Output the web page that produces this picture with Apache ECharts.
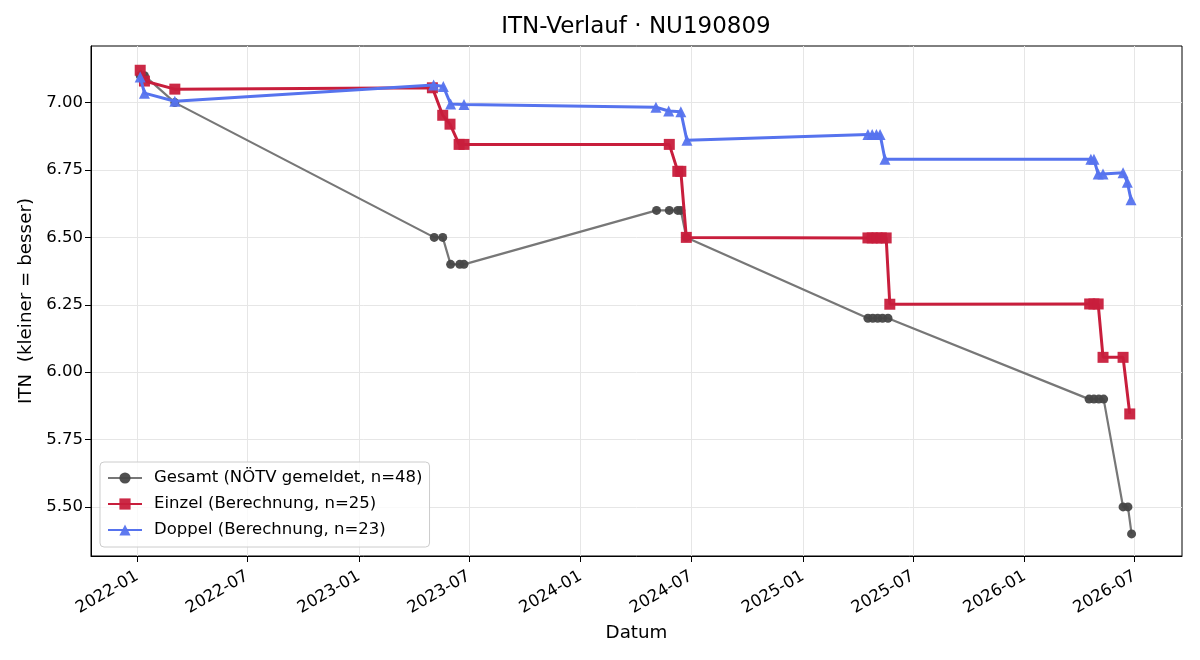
<!DOCTYPE html>
<html>
<head>
<meta charset="utf-8">
<title>ITN-Verlauf</title>
<script src="https://cdn.jsdelivr.net/npm/echarts@6/dist/echarts.min.js"></script>
<style>
  html, body { margin: 0; padding: 0; background: #fff; }
  #chart { width: 1200px; height: 660px; }
</style>
</head>
<body>
<div id="chart"></div>
<script>
// Gesamt (NÖTV gemeldet)
const gesamtDates = ['2022-01-06', '2022-01-13', '2022-03-04', '2023-05-05', '2023-05-19', '2023-06-01', '2023-06-16', '2023-06-23',
  '2024-05-05', '2024-05-26', '2024-06-09', '2024-06-14', '2024-06-23', '2025-04-18', '2025-04-26', '2025-05-04', '2025-05-12',
  '2025-05-21', '2026-04-17', '2026-04-25', '2026-05-03', '2026-05-11', '2026-06-12', '2026-06-20', '2026-06-26'];
const gesamtValues = [7.10, 7.10, 7.00, 6.50, 6.50, 6.40, 6.40, 6.40,
  6.60, 6.60, 6.60, 6.60, 6.50, 6.20, 6.20, 6.20, 6.20,
  6.20, 5.90, 5.90, 5.90, 5.90, 5.50, 5.50, 5.40];

// Einzel (Berechnung)
const einzelDates = ['2022-01-06', '2022-01-13', '2022-03-04', '2023-05-02', '2023-05-19', '2023-05-31', '2023-06-15', '2023-06-23',
  '2024-05-26', '2024-06-09', '2024-06-14', '2024-06-23', '2025-04-18', '2025-04-25', '2025-05-03', '2025-05-10', '2025-05-18',
  '2025-05-24', '2026-04-18', '2026-04-25', '2026-05-02', '2026-05-10', '2026-06-12', '2026-06-23'];
const einzelValues = [7.12, 7.08, 7.05, 7.055, 6.953, 6.92, 6.845, 6.845,
  6.845, 6.745, 6.745, 6.50, 6.498, 6.498, 6.498, 6.498, 6.498,
  6.252, 6.253, 6.253, 6.253, 6.055, 6.055, 5.845];

// Doppel (Berechnung)
const doppelDates = ['2022-01-06', '2022-01-13', '2022-03-04', '2023-05-04', '2023-05-20', '2023-06-01', '2023-06-23',
  '2024-05-04', '2024-05-25', '2024-06-14', '2024-06-24', '2025-04-18', '2025-04-25', '2025-05-02', '2025-05-08', '2025-05-16',
  '2026-04-20', '2026-04-25', '2026-05-02', '2026-05-10', '2026-06-12', '2026-06-19', '2026-06-25'];
const doppelValues = [7.095, 7.035, 7.005, 7.065, 7.06, 6.995, 6.993,
  6.983, 6.969, 6.966, 6.86, 6.882, 6.882, 6.882, 6.882, 6.79,
  6.79, 6.79, 6.735, 6.735, 6.74, 6.705, 6.64];

const seriesNames = ['Gesamt (NÖTV gemeldet, n=48)', 'Einzel (Berechnung, n=25)', 'Doppel (Berechnung, n=23)'];
const xTicks = ['2022-01-01', '2022-07-01', '2023-01-01', '2023-07-01', '2024-01-01', '2024-07-01',
  '2025-01-01', '2025-07-01', '2026-01-01', '2026-07-01'];
const yTicks = [5.50, 5.75, 6.00, 6.25, 6.50, 6.75, 7.00];

const toTime = s => new Date(s + 'T00:00:00').getTime();
const pairs = (dates, vals) => dates.map((d, i) => [toTime(d), vals[i]]);
const xTickTimes = xTicks.map(toTime);

const font = 'DejaVu Sans';
const chart = echarts.init(document.getElementById('chart'), null, { renderer: 'canvas' });

const option = {
  backgroundColor: '#fff',
  animation: false,
  textStyle: { fontFamily: font, color: '#000' },
  title: {
    text: 'ITN-Verlauf · NU190809',
    left: 636,
    textAlign: 'center',
    top: 16,
    padding: 0,
    textStyle: { fontFamily: font, fontSize: 23, fontWeight: 'normal', color: '#000' }
  },
  legend: {
    orient: 'vertical',
    left: 100,
    top: 462,
    padding: [6, 7, 7, 7],
    itemGap: 6,
    itemWidth: 34,
    itemHeight: 14,
    backgroundColor: 'rgba(255,255,255,0.8)',
    borderColor: '#cccccc',
    borderWidth: 1,
    borderRadius: 4,
    textStyle: { fontFamily: font, fontSize: 16.5, color: '#000', lineHeight: 20, padding: [0, 0, 0, 7] },
    data: seriesNames
  },
  grid: {
    left: 91,
    right: 18,
    top: 46,
    bottom: 104,
    show: true,
    borderColor: '#000',
    borderWidth: 1,
    backgroundColor: 'transparent'
  },
  xAxis: {
    type: 'value',
    min: toTime('2021-10-17'),
    max: toTime('2026-09-17'),
    name: 'Datum',
    nameLocation: 'middle',
    nameGap: 68,
    nameTextStyle: { fontFamily: font, fontSize: 18.3, color: '#000' },
    axisLine: { show: true, onZero: false, lineStyle: { color: '#000', width: 1 } },
    axisTick: { show: true, inside: false, length: 6, lineStyle: { color: '#000' }, customValues: xTickTimes },
    axisLabel: {
      customValues: xTickTimes,
      rotate: 30,
      margin: 19,
      fontFamily: font,
      fontSize: 16.5,
      color: '#000',
      formatter: v => {
        const d = new Date(v);
        return d.getFullYear() + '-' + String(d.getMonth() + 1).padStart(2, '0');
      }
    },
    splitLine: { show: true, lineStyle: { color: '#e6e6e6', width: 1 } }
  },
  yAxis: {
    type: 'value',
    min: 5.318,
    max: 7.21,
    name: 'ITN  (kleiner = besser)',
    nameLocation: 'middle',
    nameGap: 54,
    nameRotate: 90,
    nameTextStyle: { fontFamily: font, fontSize: 18.3, color: '#000' },
    axisLine: { show: true, lineStyle: { color: '#000', width: 1 } },
    axisTick: { show: true, inside: false, length: 6, lineStyle: { color: '#000' }, customValues: yTicks },
    axisLabel: {
      customValues: yTicks,
      margin: 8,
      fontFamily: font,
      fontSize: 16.5,
      color: '#000',
      formatter: v => v.toFixed(2)
    },
    splitLine: { show: true, lineStyle: { color: '#e6e6e6', width: 1 } }
  },
  series: [
    {
      name: seriesNames[0],
      type: 'line',
      data: pairs(gesamtDates, gesamtValues),
      symbol: 'circle',
      symbolSize: 9,
      lineStyle: { color: '#777777', width: 2.2 },
      itemStyle: { color: '#464646', opacity: 0.95 },
      z: 2
    },
    {
      name: seriesNames[1],
      type: 'line',
      data: pairs(einzelDates, einzelValues),
      symbol: 'rect',
      symbolSize: 11,
      lineStyle: { color: '#c81e3c', width: 3 },
      itemStyle: { color: '#c81e3c', opacity: 0.95 },
      z: 3
    },
    {
      name: seriesNames[2],
      type: 'line',
      data: pairs(doppelDates, doppelValues),
      symbol: 'triangle',
      symbolSize: 11,
      lineStyle: { color: '#5673ee', width: 3 },
      itemStyle: { color: '#5673ee', opacity: 0.95 },
      z: 4
    }
  ]
};

chart.setOption(option);
</script>
</body>
</html>
